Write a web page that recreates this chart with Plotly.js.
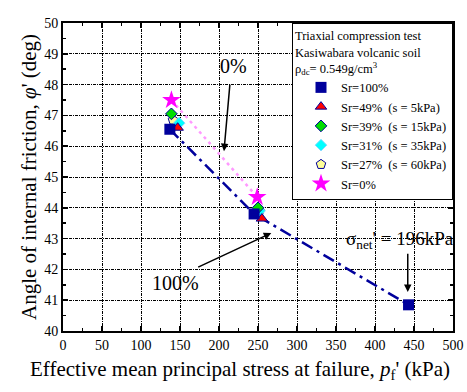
<!DOCTYPE html>
<html>
<head>
<meta charset="utf-8">
<script src="https://cdn.plot.ly/plotly-3.0.1.min.js"></script>
<style>html,body{margin:0;padding:0;background:#fff;}#chart{width:467px;height:392px;}</style>
</head>
<body>
<div id="chart"></div>
<script>
// Data
const p_sr100 = [137, 245, 443];
const phi_sr100 = [46.55, 43.8, 40.85];
const p_sr49 = [147, 255];
const phi_sr49 = [46.6, 43.65];
const p_sr39 = [139, 250];
const phi_sr39 = [47.05, 44.0];
const p_sr31 = [149, 252];
const phi_sr31 = [46.75, 43.9];
const p_sr27 = [141, 252];
const phi_sr27 = [46.85, 43.9];
const p_sr0 = [139, 249];
const phi_sr0 = [47.5, 44.35];

const seriesNames = [
  "Sr=100%",
  "Sr=49%\u00a0\u00a0(s = 5kPa)",
  "Sr=39%\u00a0\u00a0(s = 15kPa)",
  "Sr=31%\u00a0\u00a0(s = 35kPa)",
  "Sr=27%\u00a0\u00a0(s = 60kPa)",
  "Sr=0%"
];
const xTicks = [0, 50, 100, 150, 200, 250, 300, 350, 400, 450, 500];
const yTicks = [40, 41, 42, 43, 44, 45, 46, 47, 48, 49, 50];

const NAVY = "#00009c";
const serif = "Liberation Serif, Times New Roman, serif";

const traces = [
  {x: p_sr100, y: phi_sr100, mode: "lines", showlegend: false, hoverinfo: "skip",
   line: {color: NAVY, width: 2.5, dash: "12px,5px,3px,5px"}},
  {x: p_sr0, y: phi_sr0, mode: "lines", showlegend: false, hoverinfo: "skip",
   line: {color: "#ff99ff", width: 2.5, dash: "3px,4px"}},
  {x: p_sr27, y: phi_sr27, mode: "markers", name: seriesNames[4], legendrank: 5,
   marker: {symbol: "pentagon", size: 10, color: "#ffff99", line: {color: NAVY, width: 1}}},
  {x: p_sr31, y: phi_sr31, mode: "markers", name: seriesNames[3], legendrank: 4,
   marker: {symbol: "diamond", size: 9, color: "#00ffff", line: {color: "#88ddff", width: 1}}},
  {x: p_sr49, y: phi_sr49, mode: "markers", name: seriesNames[1], legendrank: 2,
   marker: {symbol: "triangle-up", size: 10, color: "#ff0000", line: {color: NAVY, width: 1}}},
  {x: p_sr39, y: phi_sr39, mode: "markers", name: seriesNames[2], legendrank: 3,
   marker: {symbol: "diamond", size: 9, color: "#00dd00", line: {color: NAVY, width: 1}}},
  {x: p_sr100, y: phi_sr100, mode: "markers", name: seriesNames[0], legendrank: 1,
   marker: {symbol: "square", size: 11, color: NAVY}},
  {x: p_sr0, y: phi_sr0, mode: "markers", name: seriesNames[5], legendrank: 6,
   marker: {symbol: "star", size: 14, color: "#ff00ff", line: {width: 0}}}
];

const axisCommon = {
  showline: true, linecolor: "#000", linewidth: 2, mirror: "allticks",
  ticks: "inside", ticklen: 5, tickwidth: 1.5, tickcolor: "#000",
  showgrid: true, gridcolor: "#000", gridwidth: 1, griddash: "3px,1px,1px,1px",
  zeroline: false, tickfont: {family: serif, size: 14, color: "#000"}
};

const arrowStyle = {showarrow: true, arrowhead: 2, arrowsize: 1, arrowwidth: 1.5, arrowcolor: "#000",
  xref: "x", yref: "y", axref: "x", ayref: "y", text: ""};
const labelStyle = {showarrow: false, xref: "x", yref: "y"};

const layout = {
  width: 467, height: 392,
  margin: {l: 63, r: 14, t: 23, b: 61},
  paper_bgcolor: "#fff", plot_bgcolor: "#fff",
  font: {family: serif, color: "#000"},
  xaxis: Object.assign({}, axisCommon, {
    range: [0, 500], tickmode: "array", tickvals: xTicks, ticktext: xTicks.map(String),
    minor: {dtick: 25, ticks: "inside", ticklen: 3, tickwidth: 1.5, tickcolor: "#000", showgrid: false}
  }),
  yaxis: Object.assign({}, axisCommon, {
    range: [40, 50], tickmode: "array", tickvals: yTicks, ticktext: yTicks.map(String),
    minor: {dtick: 0.5, ticks: "inside", ticklen: 3, tickwidth: 1.5, tickcolor: "#000", showgrid: false},
    title: {text: "Angle of internal friction, <i>\u03c6</i>' (deg)",
            font: {family: serif, size: 21, color: "#000"}, standoff: 2}
  }),
  legend: {
    x: 1, y: 1, xanchor: "right", yanchor: "top",
    bgcolor: "#fff", bordercolor: "#000", borderwidth: 1,
    font: {family: serif, size: 12.5, color: "#000"},
    title: {text: "Triaxial compression test<br>Kasiwabara volcanic soil<br>\u03c1<sub>dc</sub>= 0.549g/cm<sup>3</sup>",
            font: {family: serif, size: 12.5, color: "#000"}, side: "top"},
    tracegroupgap: 0, indentation: 8, itemwidth: 30
  },
  annotations: [
    {xref: "paper", yref: "paper", x: 0.454, y: -0.125, xanchor: "center", yanchor: "middle", showarrow: false,
     text: "Effective mean principal stress at failure, <i>p</i><sub>f</sub>' (kPa)",
     font: {family: serif, size: 21, color: "#000"}},
    Object.assign({}, labelStyle, {x: 218, y: 48.6, text: "0%", font: {family: serif, size: 20, color: "#000"}}),
    Object.assign({}, arrowStyle, {x: 206.4, y: 45.84, ax: 214.1, ay: 48.05}),
    Object.assign({}, labelStyle, {x: 143.6, y: 41.56, text: "100%", font: {family: serif, size: 20, color: "#000"}}),
    Object.assign({}, arrowStyle, {x: 267, y: 43.18, ax: 171.4, ay: 42.05}),
    Object.assign({}, labelStyle, {x: 432, y: 42.95, text: "\u03c3<sub>net</sub>' = 196kPa", font: {family: serif, size: 19, color: "#000"}}),
    Object.assign({}, arrowStyle, {x: 442, y: 41.27, ax: 442, ay: 42.56})
  ]
};

Plotly.newPlot("chart", traces, layout, {displayModeBar: false, staticPlot: true});
</script>
</body>
</html>
